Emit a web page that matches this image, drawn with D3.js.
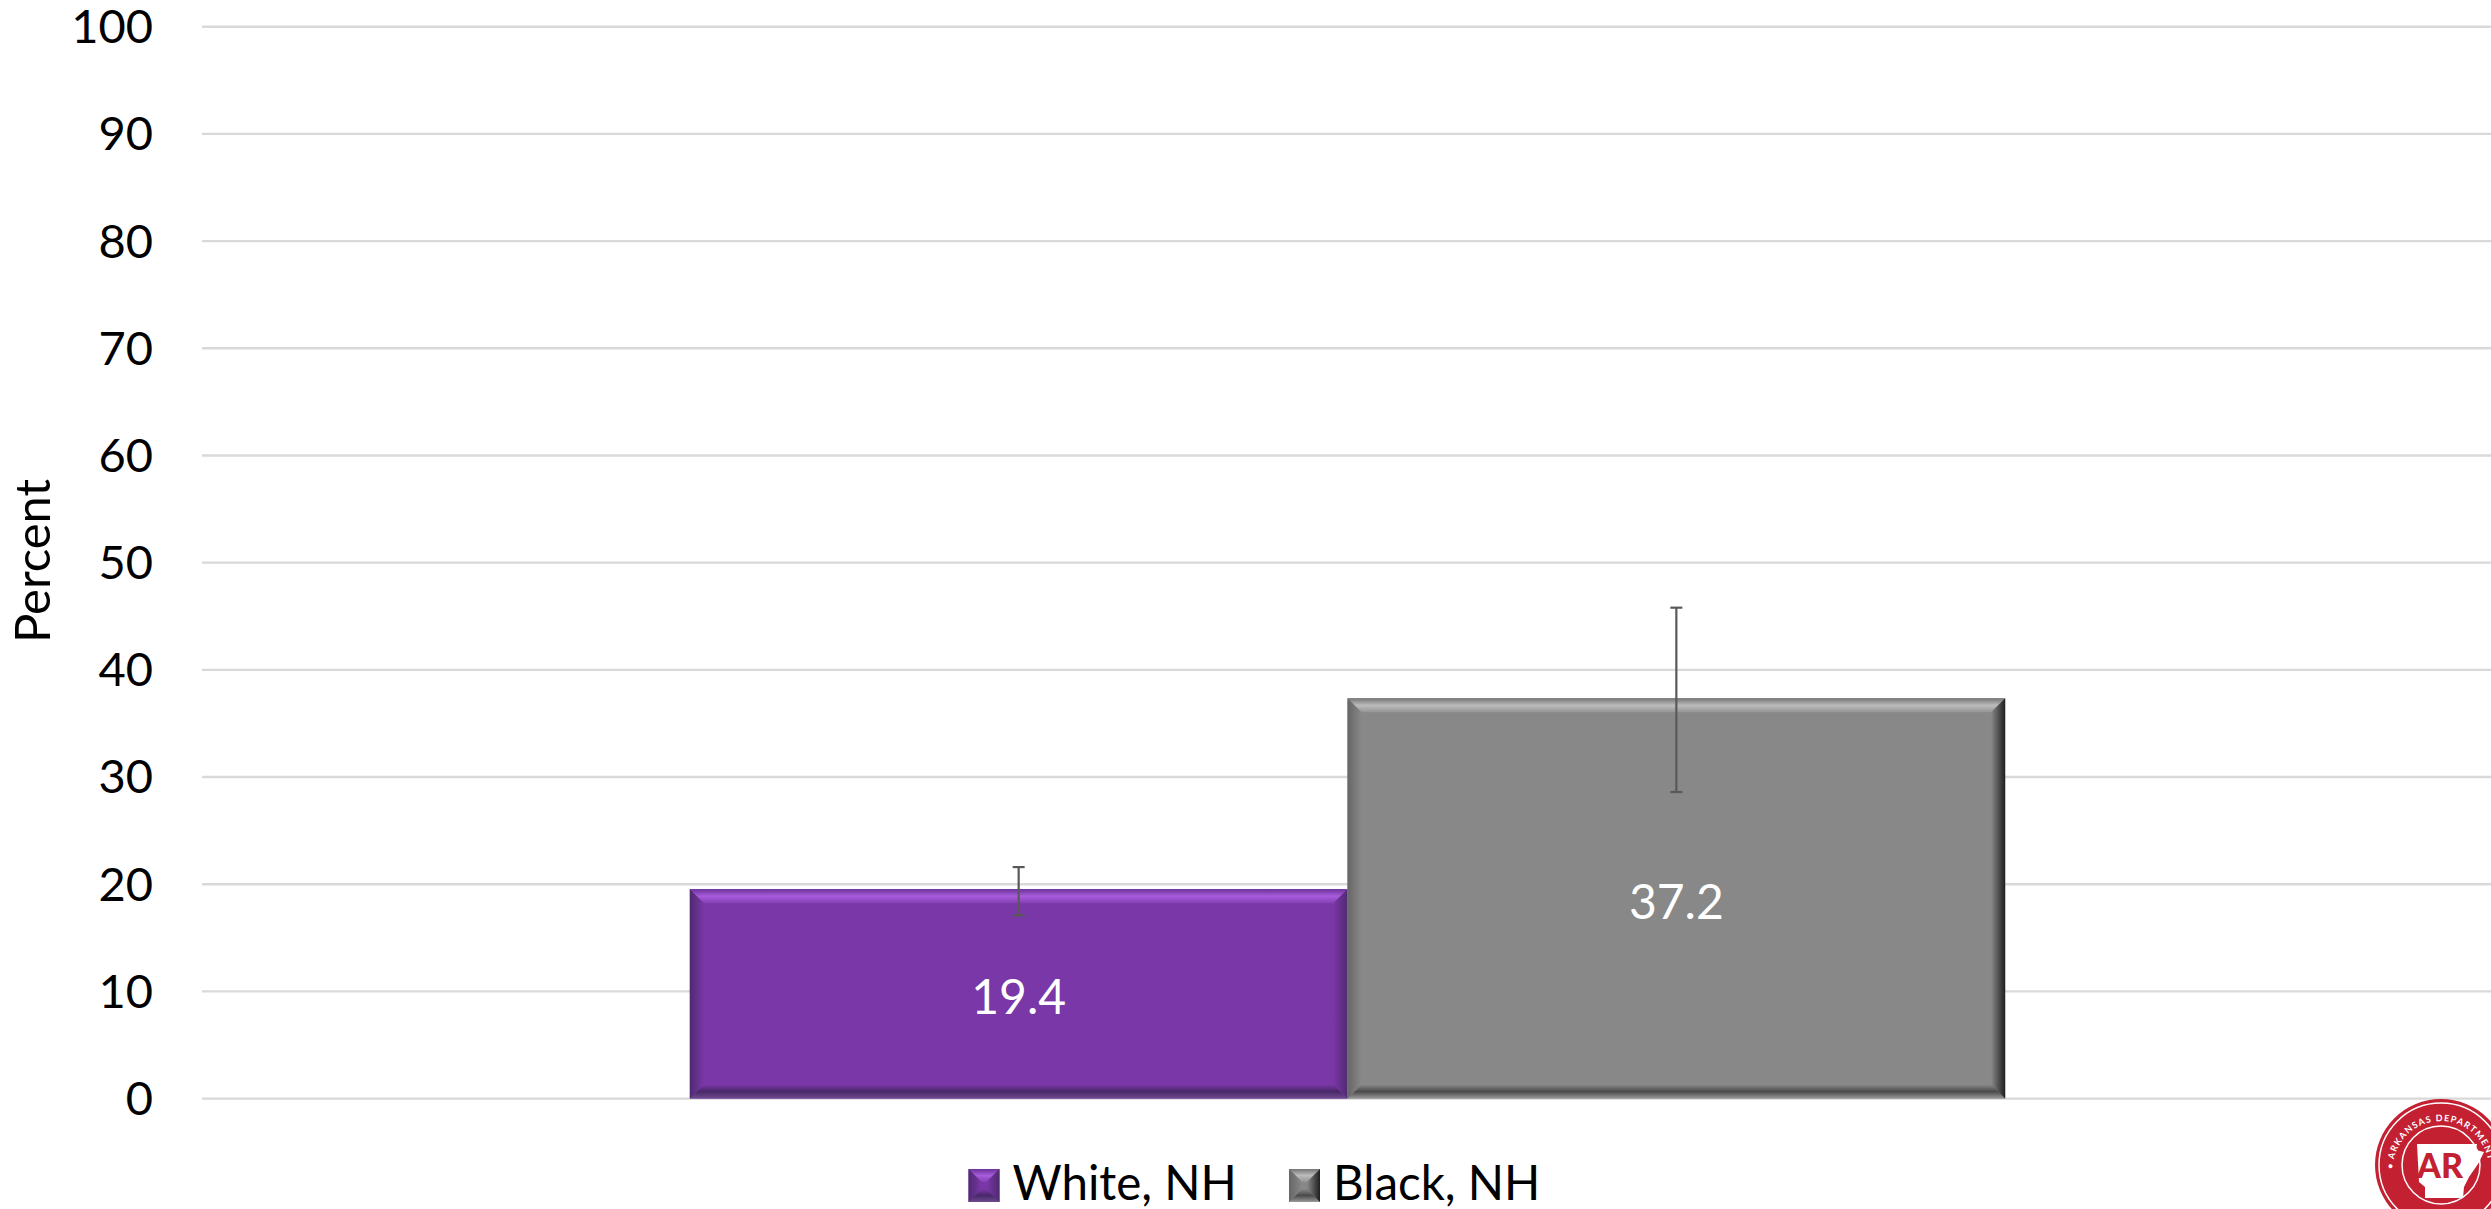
<!DOCTYPE html>
<html><head><meta charset="utf-8">
<script src="https://cdn.jsdelivr.net/npm/d3@7/dist/d3.min.js"></script>
<style>html,body{margin:0;padding:0;background:#fff;overflow:hidden}svg{display:block}text{font-family:Lato,"Open Sans",sans-serif}</style>
</head><body><svg id="c" width="2491" height="1209"></svg>
<script>
const categories = ["All"];
const seriesNames = ["White, NH", "Black, NH"];
const values = [19.4, 37.2];
const errLow = [17.1, 28.6];
const errHigh = [21.6, 45.8];
const yTicks = [0,10,20,30,40,50,60,70,80,90,100];
const palettes = [
 {base:"#7a37a7",top:["#6b3198","#a85cdc","#8540b4"],left:["#4e2a70","#7a37a7"],right:["#7a37a7","#4e2a70"],bottom:["#7a37a7","#482868","#6f4a8f"]},
 {base:"#888888",top:["#757575","#bcbcbc","#949494"],left:["#666666","#888888"],right:["#888888","#1f1f1f"],bottom:["#888888","#4a4a4a","#9a9a9a"]}
];
const W=2491,H=1209;
const svg=d3.select("#c");
const defs=svg.append("defs");
const y=d3.scaleLinear().domain([0,100]).range([1098.6,26.7]);
const x0=d3.scaleBand().domain(categories).range([200.5,2494.5]).paddingOuter(0.372).paddingInner(0);
const x1=d3.scaleBand().domain(seriesNames).range([x0("All"),x0("All")+x0.bandwidth()]);

svg.append("g").selectAll("line").data(yTicks).join("line")
 .attr("x1",202).attr("x2",W).attr("y1",d=>y(d)).attr("y2",d=>y(d))
 .attr("stroke","#d9d9d9").attr("stroke-width",2.4);
svg.append("g").selectAll("text").data(yTicks).join("text")
 .attr("x",153).attr("y",d=>y(d)).attr("dy","0.35em").attr("text-anchor","end")
 .attr("font-size",47).attr("fill","#000").text(d=>d);
svg.append("text").attr("transform","translate(33,561) rotate(-90)").attr("dy","0.35em")
 .attr("text-anchor","middle").attr("font-size",49).attr("fill","#000").text("Percent");

function grad(id,stops,dir){
 const g=defs.append("linearGradient").attr("id",id);
 if(dir==="t"||dir==="b"){g.attr("x1",0).attr("x2",0).attr("y1",0).attr("y2",1);}
 else{g.attr("x1",0).attr("x2",1).attr("y1",0).attr("y2",0);}
 stops.forEach((c,i)=>g.append("stop").attr("offset",i/(stops.length-1)).attr("stop-color",c));
 return `url(#${id})`;
}
function bevel(g,id,px0,py0,px1,py1,b,p){
 const poly=(pts,fill)=>g.append("polygon").attr("points",pts.map(q=>q.join(",")).join(" ")).attr("fill",fill);
 g.append("rect").attr("x",px0).attr("y",py0).attr("width",px1-px0).attr("height",py1-py0).attr("fill",p.base);
 poly([[px0,py0],[px1,py0],[px1-b,py0+b],[px0+b,py0+b]],grad(id+"t",p.top,"t"));
 poly([[px0,py1],[px1,py1],[px1-b,py1-b],[px0+b,py1-b]],grad(id+"b",p.bottom,"b"));
 poly([[px0,py0],[px0+b,py0+b],[px0+b,py1-b],[px0,py1]],grad(id+"l",p.left,"l"));
 poly([[px1,py0],[px1-b,py0+b],[px1-b,py1-b],[px1,py1]],grad(id+"r",p.right,"r"));
}
seriesNames.forEach((s,i)=>{
 const g=svg.append("g");
 bevel(g,"bar"+i,x1(s),y(values[i])-1.5,x1(s)+x1.bandwidth(),y(0),14,palettes[i]);
 const cx=x1(s)+x1.bandwidth()/2;
 const e=svg.append("g").attr("stroke","#595959").attr("stroke-width",2.2);
 e.append("line").attr("x1",cx).attr("x2",cx).attr("y1",y(errLow[i])).attr("y2",y(errHigh[i]));
 [errLow[i],errHigh[i]].forEach(v=>e.append("line").attr("x1",cx-6).attr("x2",cx+6).attr("y1",y(v)).attr("y2",y(v)));
 svg.append("text").attr("x",cx).attr("y",(y(values[i])+y(0))/2+3).attr("dy","0.35em")
  .attr("text-anchor","middle").attr("font-size",48).attr("fill","#fff").text(values[i].toFixed(1));
});
const legendX=d3.scaleOrdinal().domain(seriesNames).range([968.5,1289]);
seriesNames.forEach((s,i)=>{
 const lx=legendX(s);
 bevel(svg.append("g"),"leg"+i,lx,1169,lx+31,1202,13,palettes[i]);
 svg.append("text").attr("x",lx+44).attr("y",1200).attr("font-size",47.5).attr("fill","#000").text(s);
});
const logo=svg.append("g").attr("transform","translate(2441,1165)");
const red="#c32032";
logo.append("circle").attr("r",66).attr("fill",red);
logo.append("circle").attr("r",62).attr("fill","none").attr("stroke","#fff").attr("stroke-width",1.5);
logo.append("circle").attr("r",39).attr("fill","none").attr("stroke","#fff").attr("stroke-width",1.5);
logo.append("path").attr("d","M-24,-21L36,-21L35,-15L43,-13L37,-1L28,12L23,22L22,33L-16,33L-16,22L-22,17Z").attr("fill","#fff");
logo.append("text").attr("x",-1).attr("y",13).attr("text-anchor","middle").attr("font-size",34).attr("font-weight",900).attr("fill",red).text("AR");
defs.append("path").attr("id","arc").attr("d","M-48,4A48,48 0 0 1 48,4");
logo.append("text").attr("font-size",9).attr("font-weight",700).attr("fill","#fff").attr("letter-spacing",1.2)
 .append("textPath").attr("href","#arc").text("• ARKANSAS DEPARTMENT");
</script></body></html>
